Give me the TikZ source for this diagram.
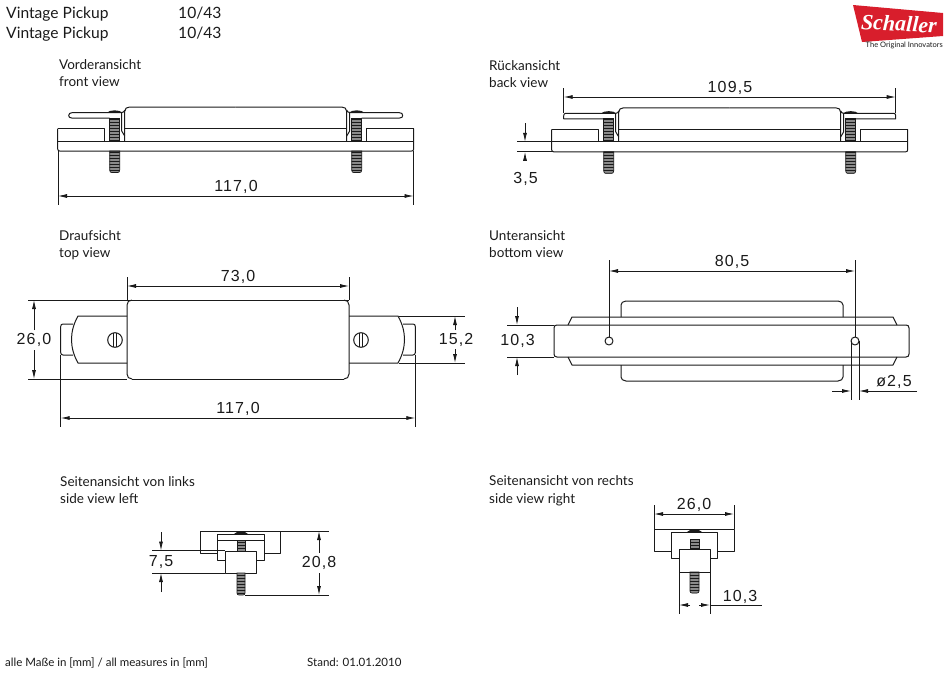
\documentclass[tikz,border=0pt]{standalone}
\usepackage{fontspec}
\usetikzlibrary{arrows.meta,patterns}
\setmainfont{Lato}
\newfontfamily\dimfont[LetterSpace=7]{Liberation Sans}
\newfontfamily\logofont{Liberation Serif}
\definecolor{ink}{HTML}{1A1A1A}
\definecolor{thread}{HTML}{8A8A8A}
\definecolor{logored}{HTML}{D81E2C}
\tikzset{
  x=1pt,y=-1pt,
  part/.style={draw=ink,line width=1pt,line join=round,fill=none},
  ext/.style={draw=ink,line width=0.8pt},
  dimline/.style={draw=ink,line width=0.8pt,{Latex[length=9pt,width=4pt]}-{Latex[length=9pt,width=4pt]}},
  arrowline/.style={draw=ink,line width=0.8pt,-{Latex[length=9pt,width=4pt]}},
  lbl/.style={inner sep=0pt,anchor=base west,font=\fontsize{13.5}{15}\selectfont,text=ink},
  head/.style={inner sep=0pt,anchor=base west,font=\fontsize{15.6}{17}\selectfont,text=ink},
  foot/.style={inner sep=0pt,anchor=base west,font=\fontsize{11.5}{13}\selectfont,text=ink},
  dimtxt/.style={inner sep=0pt,anchor=center,font=\dimfont\fontsize{16}{18}\selectfont,text=ink},
  threadfill/.style={fill=thread,draw=ink,line width=0.7pt,postaction={pattern=horizontal lines,pattern color=ink}},
}
% half of front/back view, drawn about x=0
\newcommand{\elevhalf}{
  \draw[part] (-131,141) -- (-131,128.5) -- (-178,128.5);
  \draw[threadfill] (-126,118) -- (-126,141) -- (-116,141) -- (-116,118) -- cycle;
  \draw[threadfill] (-126,151) -- (-126,170) .. controls (-126,172) and (-125,172.5) .. (-124,172.5) -- (-118,172.5) .. controls (-117,172.5) and (-116,172) .. (-116,170) -- (-116,151) -- cycle;
  \draw[part] (-114,112.5) -- (-114,131) -- (-111,136);
  \draw[part] (-111,141) -- (-111,111.5) .. controls (-111,108.5) and (-109,107) .. (-106,107) -- (0,107);
  \draw[part] (-114,112.5) .. controls (-112.5,112.5) and (-111,111.5) .. (-111,110);
  \draw[part] (-111,128.3) -- (0,128.3);
  \fill[ink] (-129,112.8) .. controls (-126,109.5) and (-116,109.5) .. (-113,112.8) -- cycle;
  \draw[part] (-129,112.5) -- (-114,112.5);
}
\newcommand{\topviewhalf}{
  \draw[part] (-111,300) -- (0,300);
  \draw[part] (-106,379) -- (0,379);
  \draw[part] (-106,300) .. controls (-109,300) and (-111,302) .. (-111,305) -- (-111,374) .. controls (-111,377) and (-109,379) .. (-106,379);
  \draw[part] (-111,316) -- (-160,316) .. controls (-164.5,324) and (-166.5,332) .. (-166.5,339.5) .. controls (-166.5,347) and (-164.5,355) .. (-160,363) -- (-111,363);
  \draw[part] (-165,324) -- (-175,324) .. controls (-176.5,324) and (-177.3,325) .. (-177.3,326.5) -- (-177.3,352.5) .. controls (-177.3,354) and (-176.5,355) .. (-175,355) -- (-165,355);
  \draw[part] (-123,340) circle[radius=7.3];
  \draw[draw=ink,line width=0.7pt] (-124.5,332.9) -- (-124.5,347.1) (-121.5,332.9) -- (-121.5,347.1);
}
\begin{document}
\begin{tikzpicture}
\useasboundingbox (0,0) rectangle (950,672);
% header
\node[head] (h1a) at (6,18) {Vintage Pickup};
\node[head] (h1b) at (178,18) {10/43};
\node[head] (h2a) at (6,38) {Vintage Pickup};
\node[head] (h2b) at (178,38) {10/43};
% logo
\fill[logored] (853,5) -- (943,13) -- (943,36) -- (862,42) -- cycle;
\node[inner sep=0pt,text=white,rotate=-3] (logo) at (899,23.5) {\logofont\bfseries\itshape\fontsize{22}{24}\selectfont Schaller};
\node[inner sep=0pt,anchor=base east,font=\fontsize{7.5}{9}\selectfont,text=ink] (tag) at (943,47.5) {The Original Innovators};
% view labels
\node[lbl] (l1a) at (59,69) {Vorderansicht};
\node[lbl] (l1b) at (59,86) {front view};
\node[lbl] (l2a) at (489,70) {Rückansicht};
\node[lbl] (l2b) at (489,87) {back view};
\node[lbl] (l3a) at (59,240) {Draufsicht};
\node[lbl] (l3b) at (59,257) {top view};
\node[lbl] (l4a) at (489,240) {Unteransicht};
\node[lbl] (l4b) at (489,257) {bottom view};
\node[lbl] (l5a) at (60,486) {Seitenansicht von links};
\node[lbl] (l5b) at (60,503) {side view left};
\node[lbl] (l6a) at (489,485) {Seitenansicht von rechts};
\node[lbl] (l6b) at (489,503) {side view right};
\node[foot] (f1) at (5,666) {alle Maße in [mm] / all measures in [mm]};
\node[foot] (f2) at (307,666) {Stand: 01.01.2010};
% ---- front view
\begin{scope}[xshift=235.7pt]
  \elevhalf
  \begin{scope}[xscale=-1]\elevhalf\end{scope}
  \draw[part] (-114,112.5) -- (-163,112.5) .. controls (-166,112.5) and (-167,114) .. (-167,115.5) .. controls (-167,117) and (-166,118) .. (-164,118) -- (-126,118);
  \draw[part] (114,112.5) -- (163,112.5) .. controls (166,112.5) and (167,114) .. (167,115.5) .. controls (167,117) and (166,118) .. (164,118) -- (126,118);
  \draw[part] (-178,128.5) -- (-178,149) .. controls (-178,150.5) and (-177,151) .. (-176,151) -- (176,151) .. controls (177,151) and (178,150.5) .. (178,149) -- (178,128.5);
  \draw[part] (-178,141) -- (178,141);
\end{scope}
\draw[ext] (58,151) -- (58,205);
\draw[ext] (413.5,151) -- (413.5,205);
\draw[dimline] (58,196) -- (413.5,196);
\node[dimtxt] (d1) at (236,187) {117,0};
% ---- back view
\begin{scope}[xshift=729.7pt,yshift=-0.8pt]
  \elevhalf
  \begin{scope}[xscale=-1]\elevhalf\end{scope}
  \draw[part] (-114,112.5) -- (-164,112.5) .. controls (-165.5,112.5) and (-166,113.5) .. (-166,115) -- (-166,118) -- (-126,118);
  \draw[part] (114,112.5) -- (164,112.5) .. controls (165.5,112.5) and (166,113.5) .. (166,115) -- (166,118) -- (126,118);
  \draw[part] (-178,128.5) -- (-178,149) .. controls (-178,150.5) and (-177,151) .. (-176,151) -- (176,151) .. controls (177,151) and (178,150.5) .. (178,149) -- (178,128.5);
  \draw[part] (-178,141) -- (178,141);
\end{scope}
\draw[ext] (563.7,88) -- (563.7,113);
\draw[ext] (895.7,88) -- (895.7,113);
\draw[dimline] (563.7,97) -- (895.7,97);
\node[dimtxt] (d2) at (730,88) {109,5};
\draw[ext] (517,141.8) -- (552,141.8);
\draw[ext] (517,151.8) -- (552,151.8);
\draw[arrowline] (525,123) -- (525,141.8);
\draw[arrowline] (525,160.5) -- (525,151.8);
\node[dimtxt] (d3) at (525.5,179) {3,5};
% ---- top view
\begin{scope}[xshift=238pt]
  \topviewhalf
  \begin{scope}[xscale=-1]\topviewhalf\end{scope}
\end{scope}
\draw[ext] (28,300) -- (127,300);
\draw[ext] (28,379) -- (127,379);
\draw[arrowline] (34,330) -- (34,300);
\draw[arrowline] (34,350) -- (34,379);
\node[dimtxt] (d4) at (34,340) {26,0};
\draw[ext] (127,277) -- (127,300);
\draw[ext] (349,277) -- (349,300);
\draw[dimline] (127,286) -- (349,286);
\node[dimtxt] (d5) at (238,277) {73,0};
\draw[ext] (60.7,355) -- (60.7,427);
\draw[ext] (415.3,355) -- (415.3,427);
\draw[dimline] (60.7,418) -- (415.3,418);
\node[dimtxt] (d6) at (238,409) {117,0};
\draw[ext] (399,316) -- (465,316);
\draw[ext] (399,363) -- (465,363);
\draw[arrowline] (455,330) -- (455,316);
\draw[arrowline] (455,349) -- (455,363);
\node[dimtxt] (d7) at (456,340) {15,2};
% ---- bottom view
\draw[part] (621,317) -- (621,305) .. controls (621,303) and (623,301) .. (626,301) -- (838,301) .. controls (841,301) and (843,303) .. (843,305) -- (843,317);
\draw[part] (621,365) -- (621,377) .. controls (621,379) and (623,381) .. (626,381) -- (838,381) .. controls (841,381) and (843,379) .. (843,377) -- (843,365);
\draw[part] (568,325) -- (572,317) -- (893,317) -- (897,325);
\draw[part] (568,357) -- (572,365) -- (893,365) -- (897,357);
\draw[part] (557,325) -- (906,325) .. controls (908,325) and (909,326) .. (909,328) -- (909,354) .. controls (909,356) and (908,357) .. (906,357) -- (557,357) .. controls (555,357) and (554,356) .. (554,354) -- (554,328) .. controls (554,326) and (555,325) .. (557,325) -- cycle;
\draw[part] (609,341) circle[radius=4];
\draw[part] (855,341) circle[radius=4];
\draw[ext] (609,260) -- (609,337);
\draw[ext] (855,260) -- (855,337);
\draw[dimline] (609,271) -- (855,271);
\node[dimtxt] (d8) at (732,262) {80,5};
\draw[ext] (507,325) -- (554,325);
\draw[ext] (507,357) -- (554,357);
\draw[arrowline] (517,307) -- (517,325);
\draw[arrowline] (517,375) -- (517,357);
\node[dimtxt] (d9) at (517.5,341) {10,3};
\draw[ext] (851,341) -- (851,400);
\draw[ext] (859,341) -- (859,400);
\draw[arrowline] (832,391) -- (851,391);
\draw[arrowline] (917,391) -- (859,391);
\node[dimtxt] (d10) at (894,382) {ø2,5};
% ---- side view left
\draw[part] (200.7,531) rectangle (280,553);
\draw[part,fill=white] (217,534) rectangle (264,560);
\draw[part] (217,540) -- (264,540);
\draw[threadfill] (237,540) rectangle (245,551);
\draw[part,fill=white] (225,551) rectangle (256,573);
\draw[threadfill] (237,573) -- (237,593) .. controls (237,594.5) and (238,595) .. (239,595) -- (243,595) .. controls (244,595) and (245,594.5) .. (245,593) -- (245,573) -- cycle;
\fill[ink] (234,534) .. controls (237,530.5) and (245,530.5) .. (248,534) -- cycle;
\draw[ext] (152,550.5) -- (225,550.5);
\draw[ext] (152,573) -- (225,573);
\draw[arrowline] (161,532) -- (161,550.5);
\draw[arrowline] (161,592) -- (161,573);
\node[dimtxt] (d11) at (161,562) {7,5};
\draw[ext] (280,531) -- (329,531);
\draw[ext] (245,595) -- (329,595);
\draw[arrowline] (319,553) -- (319,531);
\draw[arrowline] (319,573) -- (319,595);
\node[dimtxt] (d12) at (319,563) {20,8};
% ---- side view right
\draw[part] (654,529) rectangle (734,551);
\draw[part,fill=white] (671,532) rectangle (717,558);
\draw[threadfill] (690,539) rectangle (699,549);
\draw[part,fill=white] (679,549) rectangle (710,572);
\draw[threadfill] (690,572) -- (690,591) .. controls (690,592.5) and (691,593) .. (692,593) -- (697,593) .. controls (698,593) and (699,592.5) .. (699,591) -- (699,572) -- cycle;
\fill[ink] (687,532) .. controls (690,528.5) and (699,528.5) .. (702,532) -- cycle;
\draw[ext] (654,505) -- (654,529);
\draw[ext] (734,505) -- (734,529);
\draw[dimline] (654,514) -- (734,514);
\node[dimtxt] (d13) at (694,505) {26,0};
\draw[ext] (679,572) -- (679,614);
\draw[ext] (710,572) -- (710,614);
\draw[arrowline] (690,605) -- (679,605);
\draw[arrowline] (699,605) -- (710,605);
\draw[ext] (710,605) -- (762,605);
\node[dimtxt] (d14) at (740,597) {10,3};
\end{tikzpicture}
\end{document}
